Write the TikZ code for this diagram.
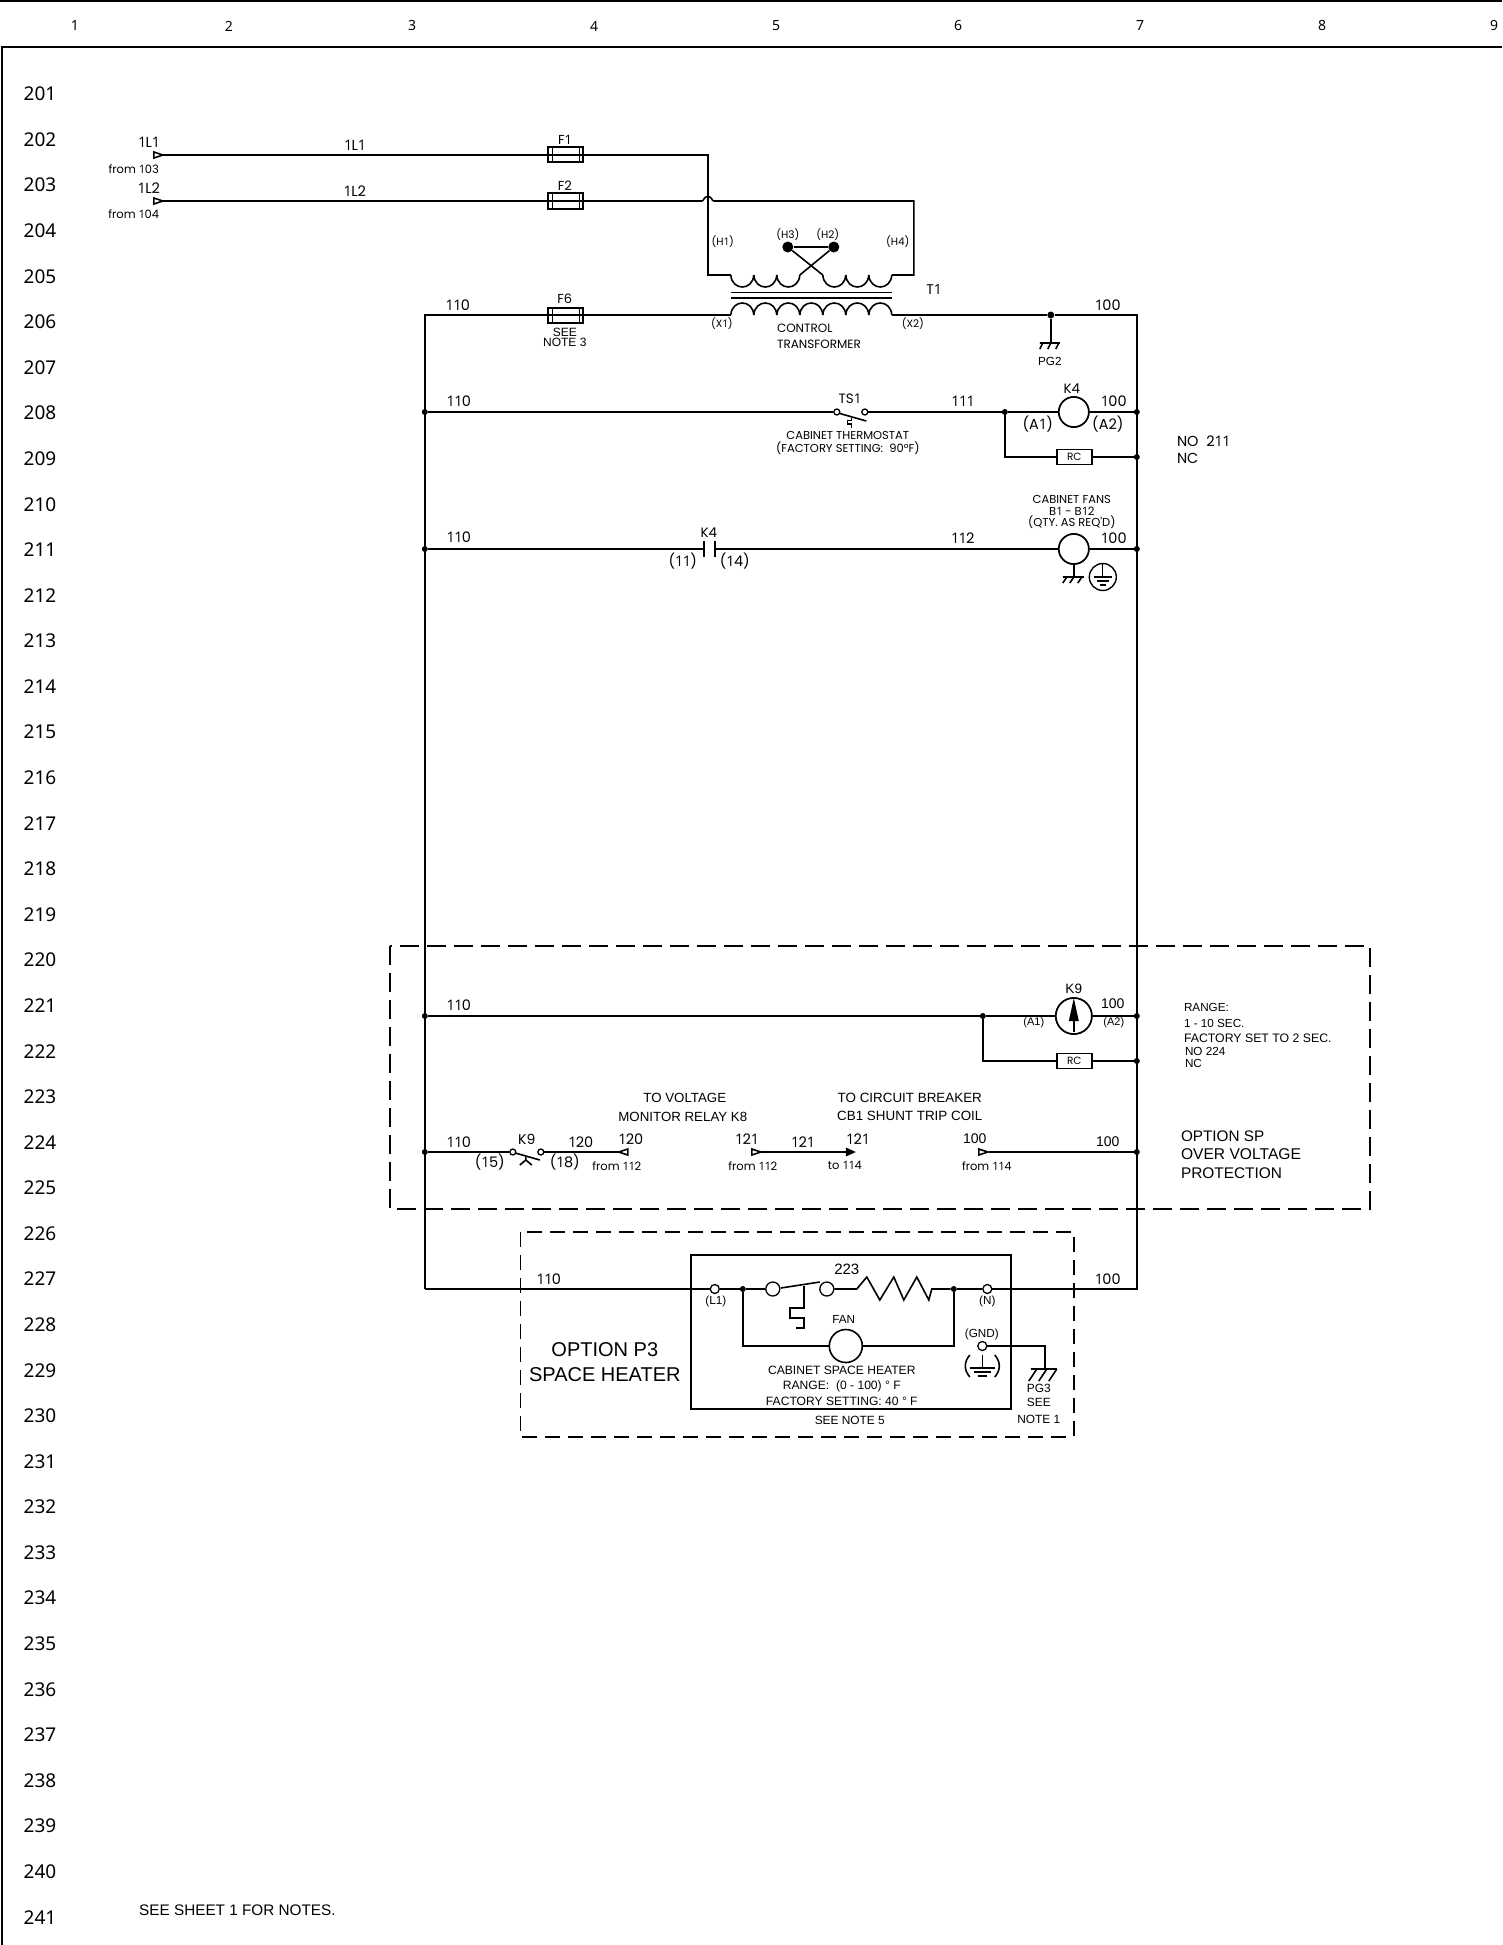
\documentclass[tikz,border=0pt]{standalone}
\usepackage{fontspec}
\setmainfont{Liberation Sans}
\newfontfamily\popf{Poppins}
\newfontfamily\libf{Liberation Sans}
\newfontfamily\notof{Noto Sans}
\newfontfamily\opf{Open Sans}
\newcommand\oo{{\opf 1}\kern-0.05em}
\newcounter{tn}
\newcommand\lb[4]{\stepcounter{tn}\node[#1,name=t\arabic{tn}] at (#2,#3) {#4};}
\tikzset{
 gt/.style={inner sep=0,font=\popf\fontsize{#1}{#1}\selectfont},
 ar/.style={inner sep=0,font=\libf\fontsize{#1}{#1}\selectfont},
 nt/.style={inner sep=0,font=\notof\fontsize{#1}{#1}\selectfont},
 wire/.style={line width=1.6pt},
 thin wire/.style={line width=1.1pt},
 dashbox/.style={line width=1.5pt,dash pattern=on 19pt off 8pt},
 jdot/.style={circle,fill=black,inner sep=0,minimum size=#1},
 jdot/.default=6pt,
 term/.style={circle,draw,fill=white,line width=1.3pt,inner sep=0,minimum size=#1},
 coilc/.style={circle,draw,fill=white,line width=1.6pt,inner sep=0,minimum size=#1},
 fuse/.style={rectangle,draw,line width=2pt,inner sep=0,minimum width=35pt,minimum height=15pt,
   path picture={\draw[line width=1.5pt] ([xshift=4pt]path picture bounding box.south west)--([xshift=4pt]path picture bounding box.north west)
     ([xshift=-4pt]path picture bounding box.south east)--([xshift=-4pt]path picture bounding box.north east);}},
 rcbox/.style={rectangle,draw,fill=white,line width=1.7pt,inner sep=0,minimum width=35pt,minimum height=15pt,font=\popf\fontsize{10.5}{10.5}\selectfont},
}
\begin{document}
\begin{tikzpicture}[x=1pt,y=-1pt]
\useasboundingbox (0,0) rectangle (1502,1945);
\fill[white] (0,0) rectangle (1502,1945);
% frame
\coordinate (fa) at (0,1.5); \coordinate (fb) at (1502,1.5);
\coordinate (fc) at (2,1945); \coordinate (fd) at (2,47); \coordinate (fe) at (1502,47);
\draw[line width=2pt] (fa)--(fb);
\draw[line width=2pt] (fc)--(fd)--(fe);
% column numbers
\foreach \x/\n in {75/1,229/2,412/3,594/4,776/5,958/6,1140/7,1322/8,1494/9}{\lb{nt=14}{\x}{26}{\n}}
% row numbers
\foreach \i in {0,...,40}{\pgfmathtruncatemacro\rn{201+\i}\pgfmathsetmacro\ry{94+45.58*\i}\lb{nt=19}{40}{\ry}{\rn}}

\begin{scope}[xshift=0.8pt]
% ---------- devices
\node[fuse] (F1) at (565,155) {};
\node[fuse] (F2) at (565,201) {};
\node[fuse] (F6) at (565,315) {};
\coordinate (i1) at (153,155); \coordinate (i2) at (153,201);
\coordinate (hopa) at (701,201); \coordinate (hopb) at (713,201);
\coordinate (h1) at (707,155); \coordinate (h1b) at (707,275); \coordinate (pa) at (730,275);
\coordinate (h4t) at (913,201); \coordinate (h4b) at (913,275); \coordinate (pb) at (891,275);
\coordinate (sa) at (730,315); \coordinate (sb) at (891,315);
\coordinate (lt) at (424,315); \coordinate (rt) at (1136,315);
\coordinate (lb) at (424,1289); \coordinate (rb) at (1136,1289);
% incoming
\draw[wire] (i1)--(F1.west)--(F1.east)--(h1)--(h1b)--(pa);
\draw[wire] (i2)--(F2.west)--(F2.east)--(hopa) .. controls (703,201) and (703,196.5) .. (707,196.5) .. controls (711,196.5) and (711,201) .. (hopb) -- (h4t)--(h4b)--(pb);
\draw[wire,fill=white] (153,152)--(162,155)--(153,158)--cycle;
\draw[wire,fill=white] (153,198)--(162,201)--(153,204)--cycle;
% transformer coils
\foreach \a in {730,753,776,822,845,868}{\draw[wire] (\a,275) .. controls (\a+1,291) and (\a+22,291) .. (\a+23,275);}
\foreach \a in {730,753,776,799,822,845,868}{\draw[wire] (\a,315) .. controls (\a+1,299) and (\a+22,299) .. (\a+23,315);}
\draw[wire] (730,292.5)--(891,292.5) (730,298)--(891,298);
\node[jdot=11pt] (H3) at (787,247) {};
\node[jdot=11pt] (H2) at (833,247) {};
\coordinate (c1) at (799,275); \coordinate (c2) at (822,275);
\draw[wire] (H3)--(H2);
\draw[wire] (H3)--(c2);
\draw[wire] (H2)--(c1);
% secondary
\node[jdot=7pt] (j206) at (1050,315) {};
\draw[wire] (lb)--(lt)--(F6.west)--(F6.east)--(sa);
\draw[wire] (sb)--(j206)--(rt)--(rb)--(lb);
% PG2
\coordinate (pg2) at (1050,343);
\draw[wire] (j206)--(pg2);
\draw[wire] (1039,343)--(1059,343) (1042,343)--(1039,349) (1050,343)--(1047,349) (1058,343)--(1055,349);

% ---------- row 208
\node[jdot] (l208) at (424,412) {};
\node[jdot] (r208) at (1136,412) {};
\node[jdot] (r209) at (1136,457) {};
\node[jdot] (j208) at (1004,412) {};
\node[term=6pt] (ts1a) at (836,412) {};
\node[term=6pt] (ts1b) at (864,412) {};
\node[coilc=30pt] (K4) at (1073,412) {};
\node[rcbox] (RC1) at (1073.5,457) {RC};
\coordinate (rc1c) at (1004,457);
\draw[wire] (l208)--(ts1a);
\draw[wire] (ts1b)--(j208)--(K4)--(r208);
\draw[wire] (j208)--(rc1c)--(RC1)--(r209);
\node[rcbox] (RC1b) at (RC1) {RC};
\node[coilc=30pt] (K4b) at (K4) {};
\draw[wire] (839,413.5)--(865.5,421);
\draw[thin wire] (851,418)--(851,420.5)--(847,420.5)--(847,424)--(851,424)--(851,428);

% ---------- row 211
\node[jdot] (l211) at (424,549) {};
\node[jdot] (r211) at (1136,549) {};
\coordinate (k4a) at (703,549); \coordinate (k4b) at (714,549);
\node[coilc=30pt] (FAN) at (1073,549) {};
\draw[wire] (l211)--(k4a);
\draw[wire] (k4b)--(FAN)--(r211);
\node[coilc=30pt] (FANb) at (FAN) {};
\draw[wire] (703,541)--(703,557) (714,541)--(714,557);
\coordinate (fg) at (1073,577);
\draw[wire] (FAN)--(fg);
\draw[wire] (1062,577)--(1083,577) (1066,577)--(1062,583) (1073,577)--(1069,583) (1081,577)--(1077,583);
\node[circle,draw,line width=1.4pt,inner sep=0,minimum size=27pt] (EARTH1) at (1102,577) {};
\draw[thin wire] (EARTH1.north)--(1102,577) (1093,577)--(1111,577) (1096,581)--(1108,581) (1099,585)--(1105,585);

% ---------- option SP box
\draw[dashbox] (389,946) rectangle (1369,1209);
\node[jdot] (l221) at (424,1016) {};
\node[jdot] (r221) at (1136,1016) {};
\node[jdot] (r222) at (1136,1061) {};
\node[jdot] (j221) at (982,1016) {};
\node[coilc=36pt] (K9) at (1073,1016) {};
\node[rcbox] (RC2) at (1073.5,1061) {RC};
\coordinate (rc2c) at (982,1061);
\draw[wire] (l221)--(j221)--(K9)--(r221);
\draw[wire] (j221)--(rc2c)--(RC2)--(r222);
\node[rcbox] (RC2b) at (RC2) {RC};
\node[coilc=36pt] (K9b) at (K9) {};
\fill (1073,998)--(1078,1021)--(1068,1021)--cycle;
\draw[wire] (1073,1020)--(1073,1032);

\node[jdot] (l224) at (424,1152) {};
\node[jdot] (r224) at (1136,1152) {};
\node[term=6pt] (k9a) at (512,1152) {};
\node[term=6pt] (k9b) at (540,1152) {};
\coordinate (w120) at (618,1152); \coordinate (w121a) at (760,1152); \coordinate (w121b) at (846,1152); \coordinate (w100) at (988,1152);
\draw[wire] (l224)--(k9a);
\draw[wire] (k9b)--(w120);
\draw[wire] (w121a)--(w121b);
\draw[wire] (w100)--(r224);
\draw[wire] (514.5,1153)--(539,1160);
\draw[wire] (525,1157)--(525,1160) (525,1160)--(519,1165) (525,1160)--(531,1165);
\draw[wire,fill=white] (627,1149)--(618,1152)--(627,1155)--cycle;
\draw[wire,fill=white] (751,1149)--(760,1152)--(751,1155)--cycle;
\fill (845,1147.5)--(855,1152)--(845,1156.5)--cycle;
\draw[wire,fill=white] (978,1149)--(987,1152)--(978,1155)--cycle;

% ---------- option P3 box
\draw[dashbox,dash pattern=on 15pt off 8pt] (519.6,1232) rectangle (1073,1437);
\node[draw,line width=2pt,inner sep=0,minimum width=320pt,minimum height=154pt,fill=white] (HTR) at (850,1332) {};
\node[term=9pt] (L1) at (714,1289) {};
\node[jdot=6pt] (j1) at (742,1289) {};
\node[term=14pt] (sw1) at (772,1289) {};
\node[term=14pt] (sw2) at (826,1289) {};
\node[jdot=6pt] (j2) at (953,1289) {};
\node[term=9pt] (NN) at (986.5,1289) {};
\node[term=9pt] (GND) at (981.5,1346) {};
\node[coilc=33pt] (HF) at (845,1346) {};
\coordinate (fa1) at (742,1346); \coordinate (fa2) at (953,1346);
\coordinate (rz) at (856,1289); \coordinate (rz2) at (931,1289);
\coordinate (g3) at (1044,1346); \coordinate (g3b) at (1044,1369);
\draw[wire] (lb)--(L1);
\draw[wire] (L1)--(j1)--(sw1);
\draw[wire] (sw2)--(rz)--(866,1277)--(879,1300)--(893,1277)--(903,1300)--(916,1277)--(928,1300)--(rz2)--(j2)--(NN);
\draw[wire] (NN)--(rb);
\draw[wire] (j1)--(fa1)--(HF)--(fa2)--(j2);
\draw[wire] (GND)--(g3)--(g3b);
\draw[wire] (1030,1369)--(1056,1369) (1036,1369)--(1028,1381) (1046,1369)--(1038,1381) (1056,1369)--(1048,1381);
\draw[wire] (780,1288)--(819,1282);
\draw[wire] (803,1286)--(803,1308)--(789,1308)--(789,1318)--(803,1318)--(803,1328)--(795,1328);
\draw[wire] (981.5,1355)--(981.5,1368) (969,1368)--(994,1368) (973,1372)--(990,1372) (977,1376)--(986,1376);
\draw[wire] (969,1355) .. controls (963,1362) and (963,1370) .. (969,1377);
\draw[wire] (994,1355) .. controls (1000,1362) and (1000,1370) .. (994,1377);

% ---------- labels: geometric face
\lb{gt=14.5}{148}{142}{\oo L\oo}
\lb{gt=14.5}{354}{145}{\oo L\oo}
\lb{gt=14.5}{148}{188}{\oo L2}
\lb{gt=14.5}{354}{191}{\oo L2}
\lb{gt=11.5}{133}{169}{from \oo 03}
\lb{gt=11.5}{133}{214}{from \oo 04}
\lb{gt=13}{564}{140}{F\oo}
\lb{gt=13}{564}{186}{F2}
\lb{gt=13}{564}{299}{F6}
\lb{gt=14.5}{457}{305}{\oo\oo 0}
\lb{ar=12}{564}{332}{SEE}
\lb{ar=12}{564}{342}{NOTE 3}
\lb{gt=10.5}{722}{242}{(H\oo)}
\lb{gt=10.5}{787}{235}{(H3)}
\lb{gt=10.5}{827}{235}{(H2)}
\lb{gt=10.5}{897}{242}{(H4)}
\lb{gt=14}{933}{290}{T\oo}
\lb{gt=10.5}{721}{324}{(X\oo)}
\lb{gt=10.5}{912}{324}{(X2)}
\lb{gt=12,anchor=west}{776}{328}{CONTROL}
\lb{gt=12,anchor=west}{776}{344}{TRANSFORMER}
\lb{gt=14.5}{1107}{305}{\oo 00}
\lb{ar=11.7}{1049}{361}{PG2}
\lb{gt=14.5}{458}{401}{\oo\oo 0}
\lb{gt=13.5}{849}{399}{TS\oo}
\lb{gt=14.5}{962}{401}{\oo\oo\oo}
\lb{gt=13.5}{1071}{389}{K4}
\lb{gt=14.5}{1113}{401}{\oo 00}
\lb{gt=14.5}{1037}{424}{(A\oo)}
\lb{gt=14.5}{1107}{424}{(A2)}
\lb{gt=11.5}{847}{435}{CABINET THERMOSTAT}
\lb{gt=11.5}{847}{448}{(FACTORY SETTING:\ \ 90°F)}
\lb{gt=14.5,anchor=west}{1176}{441}{NO\ \ 2\oo\oo}
\lb{gt=14.5,anchor=west}{1176}{458}{NC}
\lb{gt=11.5}{1071}{499}{CABINET FANS}
\lb{gt=11.5}{1071}{511}{B\oo\ - B\oo 2}
\lb{gt=11.5}{1071}{522}{(QTY. AS REQ'D)}
\lb{gt=14.5}{458}{537}{\oo\oo 0}
\lb{gt=13.5}{708}{533}{K4}
\lb{gt=14.5}{682}{561}{(\oo\oo)}
\lb{gt=14.5}{734}{561}{(\oo 4)}
\lb{gt=14.5}{962}{538}{\oo\oo 2}
\lb{gt=14.5}{1113}{538}{\oo 00}
% row 221
\lb{gt=14.5}{458}{1005}{\oo\oo 0}
\lb{ar=13.6}{1073}{989}{K9}
\lb{ar=14}{1112}{1004}{100}
\lb{ar=11}{1033}{1023}{(A1)}
\lb{ar=11}{1113}{1023}{(A2)}
\lb{ar=11.7,anchor=west}{1183}{1007}{RANGE:}
\lb{ar=11.7,anchor=west}{1183}{1023}{1 - 10 SEC.}
\lb{ar=12.3,anchor=west}{1183}{1038}{FACTORY SET TO 2 SEC.}
\lb{ar=11.7,anchor=west}{1184}{1051}{NO 224}
\lb{ar=11.7,anchor=west}{1184}{1063}{NC}
% row 224
\lb{ar=13.3}{684}{1098}{TO VOLTAGE}
\lb{ar=13.3}{682}{1117}{MONITOR RELAY K8}
\lb{ar=13.4}{909}{1098}{TO CIRCUIT BREAKER}
\lb{ar=13.4}{909}{1116}{CB1 SHUNT TRIP COIL}
\lb{gt=14.5}{458}{1142}{\oo\oo 0}
\lb{gt=14.5}{489}{1162}{(\oo 5)}
\lb{gt=14}{526}{1139}{K9}
\lb{gt=14.5}{580}{1142}{\oo 20}
\lb{gt=14.5}{564}{1162}{(\oo 8)}
\lb{gt=14.5}{630}{1139}{\oo 20}
\lb{gt=11.5}{616}{1166}{from \oo\oo 2}
\lb{gt=14.5}{746}{1139}{\oo 2\oo}
\lb{gt=14.5}{802}{1142}{\oo 2\oo}
\lb{gt=14.5}{857}{1139}{\oo 2\oo}
\lb{gt=11.5}{752}{1166}{from \oo\oo 2}
\lb{gt=11.5}{844}{1165}{to \oo\oo 4}
\lb{ar=14}{974}{1139}{100}
\lb{gt=11.5}{986}{1166}{from \oo\oo 4}
\lb{ar=14}{1107}{1142}{100}
\lb{ar=15.3,anchor=west}{1180}{1136}{OPTION SP}
\lb{ar=15.6,anchor=west}{1180}{1154}{OVER VOLTAGE}
\lb{ar=15.4,anchor=west}{1180}{1173}{PROTECTION}
% heater
\lb{gt=14.5}{548}{1279}{\oo\oo 0}
\lb{gt=14.5}{1107}{1279}{\oo 00}
\lb{ar=20}{604}{1350}{OPTION P3}
\lb{ar=20}{604}{1375}{SPACE HEATER}
\lb{ar=15}{846}{1269}{223}
\lb{ar=11.7}{715}{1301}{(L1)}
\lb{ar=11.7}{986.5}{1301}{(N)}
\lb{ar=11.7}{843}{1319}{FAN}
\lb{ar=11.7}{981}{1334}{(GND)}
\lb{ar=12.1}{841}{1370}{CABINET SPACE HEATER}
\lb{ar=12.1}{841}{1386}{RANGE:\ \ (0 - 100) ° F}
\lb{ar=12.1}{841}{1401}{FACTORY SETTING: 40 ° F}
\lb{ar=11.9}{849}{1420}{SEE NOTE 5}
\lb{ar=11.9}{1038}{1388}{PG3}
\lb{ar=11.9}{1038}{1402}{SEE}
\lb{ar=11.9}{1038}{1419}{NOTE 1}
\end{scope}
\lb{ar=15.3,anchor=west}{139}{1910}{SEE SHEET 1 FOR NOTES.}
\end{tikzpicture}
\end{document}
